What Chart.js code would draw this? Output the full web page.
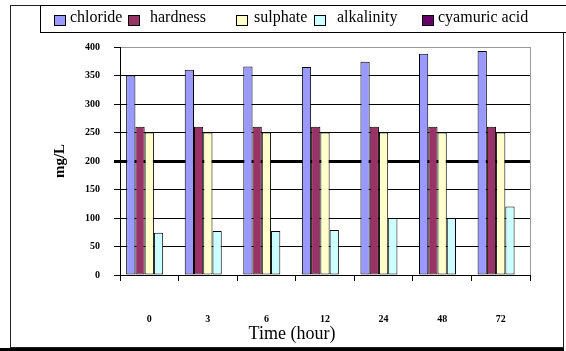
<!DOCTYPE html>
<html>
<head>
<meta charset="utf-8">
<script src="https://cdn.jsdelivr.net/npm/chart.js@4"></script>
<style>
  html, body { margin: 0; padding: 0; background: #fff; }
  #wrap { width: 566px; height: 351px; position: relative; }
</style>
</head>
<body>
<div id="wrap"><canvas id="c" width="566" height="351"></canvas></div>
<script>
// ---- data ----
const categories = ['0', '3', '6', '12', '24', '48', '72'];
const chloride   = [350, 360, 366, 365, 374, 388, 393];
const hardness   = [260, 260, 260, 260, 260, 260, 260];
const sulphate   = [250, 250, 250, 250, 250, 250, 250];
const alkalinity = [74, 77, 77, 79, 100, 100, 120];
const cyanuric   = [0, 0, 0, 0, 0, 0, 0];
const seriesNames = ['chloride', 'hardness', 'sulphate', 'alkalinity', 'cyamuric acid'];
const yTicks = [0, 50, 100, 150, 200, 250, 300, 350, 400];
const xTitle = 'Time (hour)';
const yTitle = 'mg/L';

const colors = ['#9999FF', '#993366', '#FFFFCC', '#CCFFFF', '#660066'];
const seriesData = [chloride, hardness, sulphate, alkalinity, cyanuric];

const serif = "'Liberation Serif', 'Times New Roman', serif";

const framePlugin = {
  id: 'frame',
  beforeDraw(chart) {
    const ctx = chart.ctx;
    ctx.save();
    ctx.fillStyle = '#fff';
    ctx.fillRect(0, 0, chart.width, chart.height);
    ctx.restore();
  },
  beforeDatasetsDraw(chart) {
    const ctx = chart.ctx, a = chart.chartArea;
    ctx.save();
    ctx.strokeStyle = '#999';
    ctx.lineWidth = 1;
    ctx.beginPath();
    ctx.moveTo(Math.round(a.right) + 0.5, a.top);
    ctx.lineTo(Math.round(a.right) + 0.5, a.bottom);
    ctx.stroke();
    ctx.restore();
  },
  afterDraw(chart) {
    const ctx = chart.ctx;
    ctx.save();
    // outer frame
    ctx.strokeStyle = '#222';
    ctx.lineWidth = 1;
    ctx.strokeRect(10.5, 5.5, 553, 342);
    // bottom band
    ctx.fillStyle = '#000';
    ctx.fillRect(0, 348, 564, 3);
    // legend box
    ctx.fillStyle = '#fff';
    ctx.fillRect(40, 5, 530, 27);
    ctx.strokeStyle = '#000';
    ctx.strokeRect(40.5, 5.5, 530, 27);
    const boxX = [54, 128, 236, 314, 422];
    const textX = [70, 150, 254, 337, 438];
    ctx.font = '16px ' + serif;
    ctx.textBaseline = 'middle';
    ctx.textAlign = 'left';
    chart.data.datasets.forEach((ds, i) => {
      ctx.fillStyle = ds.backgroundColor;
      ctx.fillRect(boxX[i], 15, 11, 10);
      ctx.strokeStyle = '#000';
      ctx.strokeRect(boxX[i] + 0.5, 15.5, 11, 10);
      ctx.fillStyle = '#000';
      ctx.fillText(ds.label, textX[i], 18);
    });
    // x title
    ctx.font = '18px ' + serif;
    ctx.textAlign = 'center';
    ctx.textBaseline = 'alphabetic';
    ctx.fillStyle = '#000';
    ctx.fillText(xTitle, 292, 339);
    ctx.restore();
  }
};

new Chart(document.getElementById('c'), {
  type: 'bar',
  data: {
    labels: categories,
    datasets: seriesData.map((d, i) => ({
      label: seriesNames[i],
      data: d,
      backgroundColor: colors[i],
      borderColor: '#000',
      borderWidth: 1,
      borderSkipped: false,
      categoryPercentage: 0.79,
      barPercentage: 1.0
    }))
  },
  options: {
    responsive: false,
    animation: false,
    devicePixelRatio: 1,
    layout: { padding: { top: 47, right: 36, left: 47, bottom: 0 } },
    plugins: {
      legend: { display: false },
      tooltip: { enabled: false }
    },
    scales: {
      x: {
        offset: true,
        grid: { display: true, drawOnChartArea: false, drawTicks: true, tickLength: 6, color: '#000', offset: true },
        border: { display: true, color: '#000', width: 1 },
        ticks: { padding: 32, color: '#000', font: { family: serif, size: 10, weight: 'bold' }, maxRotation: 0 },
        afterFit(s) { s.height = 76; }
      },
      y: {
        min: 0,
        max: 400,
        afterBuildTicks(s) { s.ticks = yTicks.map(v => ({ value: v })); },
        grid: {
          color: c => (c.tick && c.tick.value === 400) ? '#999' : '#000',
          lineWidth: c => (c.tick && c.tick.value === 200) ? 3 : 1,
          tickColor: '#000',
          tickLength: 6,
          drawTicks: true
        },
        border: { display: true, color: '#000', width: 1 },
        ticks: { padding: 14, color: '#000', font: { family: serif, size: 10, weight: 'bold' } },
        title: { display: true, text: yTitle, color: '#000', font: { family: serif, size: 15, weight: 'bold' }, padding: { top: 4, bottom: 4 } },
        afterFit(s) { s.width = 73; }
      }
    }
  },
  plugins: [framePlugin]
});
</script>
</body>
</html>
